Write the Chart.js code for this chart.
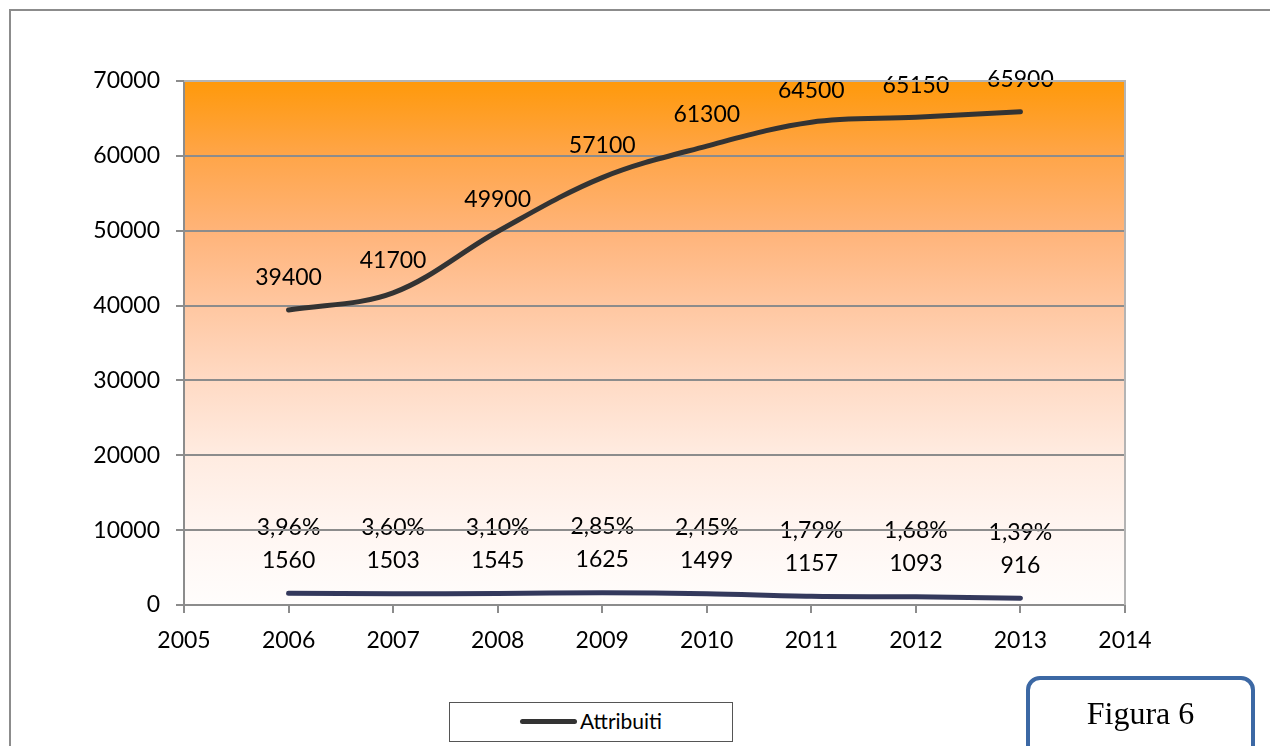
<!DOCTYPE html>
<html>
<head>
<meta charset="utf-8">
<script src="https://cdn.jsdelivr.net/npm/chart.js@4.4.1/dist/chart.umd.min.js"></script>
<style>
html,body{margin:0;padding:0;background:#fff;overflow:hidden;}
#wrap{position:relative;width:1270px;height:746px;}
#frame{position:absolute;left:9px;top:9px;width:1300px;height:800px;border:2px solid #8c8c8c;box-sizing:border-box;}
#chart{position:absolute;left:0;top:0;}
#legend{position:absolute;left:449px;top:702px;width:284px;height:40px;border:1px solid #555;box-sizing:border-box;background:#fff;}
#legLine{position:absolute;left:520px;top:719px;width:57px;height:5px;border-radius:3px;background:#333;}
#legText{position:absolute;left:580px;top:710px;font-family:Lato,"Open Sans",sans-serif;font-size:21px;line-height:22px;color:#000;}
#fig{position:absolute;left:1026px;top:676px;width:229px;height:100px;border:4px solid #3c68a4;border-radius:14px;box-sizing:border-box;background:#fff;}
#figText{position:absolute;left:1026px;top:697px;width:229px;text-align:center;font-family:"Liberation Serif","Times New Roman",serif;font-size:32px;line-height:32px;color:#000;}
</style>
</head>
<body>
<div id="wrap">
<div id="frame"></div>
<canvas id="chart" width="1270" height="746"></canvas>
<div id="legend"></div>
<div id="legLine"></div>
<div id="legText">Attribuiti</div>
<div id="fig"></div>
<div id="figText">Figura 6</div>
</div>
<script>
let years = [2006, 2007, 2008, 2009, 2010, 2011, 2012, 2013];
let attribuiti = [39400, 41700, 49900, 57100, 61300, 64500, 65150, 65900];
let secondi = [1560, 1503, 1545, 1625, 1499, 1157, 1093, 916];
let percentuali = ["3,96%", "3,60%", "3,10%", "2,85%", "2,45%", "1,79%", "1,68%", "1,39%"];
let yTicks = [0, 10000, 20000, 30000, 40000, 50000, 60000, 70000];

let font = "Lato, 'Open Sans', sans-serif";

// sfondo sfumato + etichette (disegnate prima della griglia, come nell'originale)
let bgPlugin = {
id: "bg",
beforeDraw(chart){
let a = chart.chartArea;
let ctx = chart.ctx;
let g = ctx.createLinearGradient(0, a.top, 0, a.bottom);
g.addColorStop(0, "#ff990a");
g.addColorStop(0.14, "#ffa548");
g.addColorStop(0.29, "#ffb47a");
g.addColorStop(0.43, "#ffc7a1");
g.addColorStop(0.57, "#ffdac4");
g.addColorStop(0.71, "#ffebe0");
g.addColorStop(0.86, "#fff6f2");
g.addColorStop(1, "#fffdfc");
ctx.save();
ctx.fillStyle = g;
ctx.fillRect(a.left, a.top, a.right - a.left, a.bottom - a.top);

ctx.font = "23px " + font;
ctx.fillStyle = "#000";
ctx.textAlign = "center";
ctx.textBaseline = "middle";
chart.getDatasetMeta(0).data.forEach((p, i) => {
ctx.fillText(String(attribuiti[i]), p.x, p.y - 32);
});
chart.getDatasetMeta(1).data.forEach((p, i) => {
ctx.fillText(String(secondi[i]), p.x, p.y - 33);
ctx.fillText(percentuali[i], p.x, p.y - 66);
});
ctx.restore();
},
afterDraw(chart){
let a = chart.chartArea;
let ctx = chart.ctx;
ctx.save();
ctx.strokeStyle = "#b4b4b4";
ctx.lineWidth = 2;
ctx.beginPath();
ctx.moveTo(a.left, a.top);
ctx.lineTo(a.right, a.top);
ctx.lineTo(a.right, a.bottom);
ctx.stroke();
ctx.restore();
}
};

function toPoints(vals){
let out = [];
for(let i=0;i<years.length;i++){
out.push({x: years[i], y: vals[i]});
}
return out;
}

new Chart(document.getElementById("chart").getContext("2d"), {
type: "scatter",
data: {
datasets: [{
label: "Attribuiti",
data: toPoints(attribuiti),
showLine: true,
borderColor: "#333333",
borderWidth: 5,
pointRadius: 0,
tension: 0.35,
borderCapStyle: "round"
},{
label: "Serie 2",
data: toPoints(secondi),
showLine: true,
borderColor: "#34395c",
borderWidth: 5,
pointRadius: 0,
tension: 0.35,
borderCapStyle: "round"
}]
},
options: {
responsive: false,
animation: false,
layout: {padding: {top: 81, right: 145, left: 0, bottom: 0}},
plugins: {legend: {display: false}, tooltip: {enabled: false}},
scales: {
x: {
type: "linear",
min: 2005,
max: 2014,
afterFit(s){ s.height = 141; },
ticks: {stepSize: 1, color: "#000", font: {family: font, size: 23}, padding: 14, callback: v => String(v)},
grid: {drawOnChartArea: false, drawTicks: true, tickLength: 8, color: "#8c8c8c", lineWidth: 2},
border: {color: "#8c8c8c", width: 2}
},
y: {
min: 0,
max: 70000,
afterFit(s){ s.width = 184; },
afterBuildTicks(s){ s.ticks = yTicks.map(v => ({value: v})); },
ticks: {color: "#000", font: {family: font, size: 23}, padding: 16, callback: v => String(v)},
grid: {color: "#8c8c8c", lineWidth: 2, tickLength: 8},
border: {color: "#8c8c8c", width: 2}
}
}
},
plugins: [bgPlugin]
});
</script>
</body>
</html>
